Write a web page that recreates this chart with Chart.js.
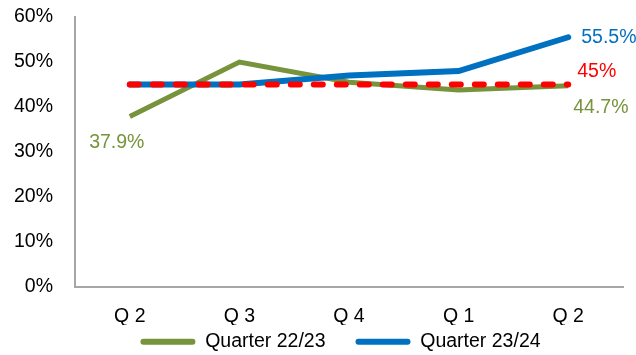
<!DOCTYPE html>
<html>
<head>
<meta charset="utf-8">
<script src="https://cdn.jsdelivr.net/npm/chart.js@4/dist/chart.umd.min.js"></script>
<style>
  html, body { margin: 0; padding: 0; background: #ffffff; }
  #wrap { width: 636px; height: 355px; }
</style>
</head>
<body>
<div id="wrap"><canvas id="c" width="636" height="355"></canvas></div>
<script>
// Quarter labels along the x axis
const quarters = ['Q 2', 'Q 3', 'Q 4', 'Q 1', 'Q 2'];

// Share per quarter, in percent
const quarter2223 = [37.9, 50.0, 45.5, 43.8, 44.7];
const quarter2324 = [45.0, 45.0, 47.0, 48.0, 55.5];
const target = [45, 45, 45, 45, 45];

// Y axis range and ticks
const yTicks = [0, 10, 20, 30, 40, 50, 60];

const GREEN = '#77933C';
const BLUE = '#0070C0';
const RED = '#FF0000';
const FONT = '"Liberation Sans", Arial, sans-serif';
const FONT_SIZE = 19.5;

// Value label at the last point of each line (first point too for the green series)
const valueLabels = {
  id: 'valueLabels',
  afterDatasetsDraw(chart) {
    const ctx = chart.ctx;
    ctx.save();
    ctx.font = FONT_SIZE + 'px ' + FONT;
    ctx.textBaseline = 'middle';
    const place = (dsIndex, idx, dx, dy, align) => {
      const pt = chart.getDatasetMeta(dsIndex).data[idx];
      const ds = chart.data.datasets[dsIndex];
      ctx.fillStyle = ds.borderColor;
      ctx.textAlign = align;
      ctx.fillText(ds.data[idx] + '%', pt.x + dx, pt.y + dy);
    };
    const last = quarters.length - 1;
    place(0, 0, -13, 26, 'center');
    place(0, last, 5, 22, 'left');
    place(1, last, 13, 0, 'left');
    place(2, last, 9, -13, 'left');
    ctx.restore();
  }
};

// Move the legend row so it sits under the plot, close to the axis labels
const legendShift = {
  id: 'legendShift',
  afterLayout(chart) {
    const lg = chart.legend;
    if (lg) {
      lg.left += 29;
      lg.right += 29;
      lg.top -= 23;
      lg.bottom = chart.height;
    }
  }
};

new Chart(document.getElementById('c'), {
  type: 'line',
  data: {
    labels: quarters,
    datasets: [
      {
        label: 'Quarter 22/23',
        data: quarter2223,
        borderColor: GREEN,
        backgroundColor: GREEN,
        borderWidth: 5,
        pointRadius: 0,
        tension: 0,
        order: 2
      },
      {
        label: 'Quarter 23/24',
        data: quarter2324,
        borderColor: BLUE,
        backgroundColor: BLUE,
        borderWidth: 6,
        pointRadius: 0,
        tension: 0,
        borderCapStyle: 'round',
        order: 1
      },
      {
        label: 'Target',
        data: target,
        borderColor: RED,
        backgroundColor: RED,
        borderWidth: 6,
        borderDash: [9, 14],
        borderCapStyle: 'round',
        pointRadius: 0,
        tension: 0,
        order: 0
      }
    ]
  },
  options: {
    responsive: false,
    animation: false,
    devicePixelRatio: 1,
    layout: { padding: { top: 17, right: 13, bottom: 0, left: 0 } },
    plugins: {
      legend: {
        position: 'bottom',
        maxHeight: 30,
        labels: {
          font: { family: FONT, size: FONT_SIZE },
          color: '#000000',
          boxWidth: 55,
          boxHeight: 6,
          useBorderRadius: true,
          borderRadius: 3,
          padding: 30,
          // flat swatches: filled bar only, no outline
          generateLabels: (chart) =>
            Chart.defaults.plugins.legend.labels.generateLabels(chart)
              .map(item => Object.assign(item, { lineWidth: 0, lineDash: [] })),
          sort: (a, b) => a.datasetIndex - b.datasetIndex,
          filter: (item) => item.datasetIndex !== 2
        }
      },
      tooltip: { enabled: false }
    },
    scales: {
      x: {
        offset: true,
        grid: { display: false, drawTicks: false },
        border: { display: true, color: '#A6A6A6', width: 2 },
        afterFit: (scale) => {
          scale.height = 38;
          scale.paddingLeft = 0;
          scale.paddingRight = 0;
        },
        ticks: {
          font: { family: FONT, size: FONT_SIZE },
          color: '#000000',
          padding: 18
        }
      },
      y: {
        min: yTicks[0],
        max: yTicks[yTicks.length - 1],
        grid: { display: false, drawTicks: false },
        border: { display: true, color: '#A6A6A6', width: 2 },
        afterBuildTicks: (scale) => { scale.ticks = yTicks.map(v => ({ value: v })); },
        afterFit: (scale) => {
          scale.width = 75;
          scale.paddingTop = 0;
          scale.paddingBottom = 0;
        },
        ticks: {
          font: { family: FONT, size: FONT_SIZE },
          color: '#000000',
          padding: 22,
          callback: (v) => v + '%'
        }
      }
    }
  },
  plugins: [valueLabels, legendShift]
});
</script>
</body>
</html>
